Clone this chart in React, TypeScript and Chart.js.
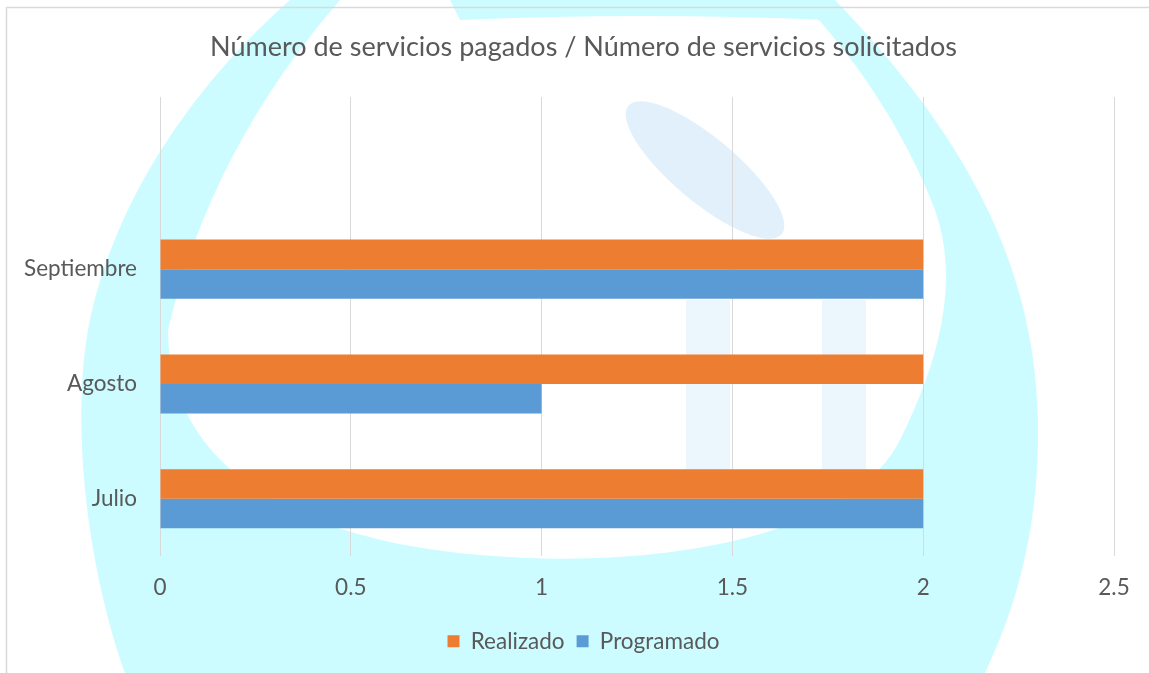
import React, { useEffect, useRef } from "react";
import { Chart, registerables } from "chart.js";

Chart.register(...registerables);

const titleText = "Número de servicios pagados / Número de servicios solicitados";
const categories = ["", "Septiembre", "Agosto", "Julio"];
const realizado: (number | null)[] = [null, 2, 2, 2];
const programado: (number | null)[] = [null, 2, 1, 2];
const seriesNames = ["Realizado", "Programado"];
const xMin = 0;
const xMax = 2.5;
const xStep = 0.5;

const FONT = "Lato, 'Open Sans', sans-serif";
const TEXT = "#595959";
const GRID = "#d9d9d9";
const CYAN = "#ccfcff";
const LIGHTBLUE = "rgba(200,228,248,0.55)";
const TICK_SIZE = 22.5;

const backgroundPlugin = {
  id: "bgWatermark",
  beforeDraw(chart: any) {
    const ctx = chart.ctx as CanvasRenderingContext2D;
    const w = chart.width;
    const h = chart.height;
    ctx.save();
    ctx.fillStyle = "#ffffff";
    ctx.fillRect(0, 0, w, h);

    // watermark (decorative)
    ctx.fillStyle = CYAN;
    ctx.beginPath();
    ctx.moveTo(290, 0);
    ctx.lineTo(340, 0);
    ctx.quadraticCurveTo(210, 150, 168, 330);
    ctx.bezierCurveTo(168, 470, 300, 540, 480, 555);
    ctx.bezierCurveTo(650, 570, 850, 540, 900, 440);
    ctx.bezierCurveTo(940, 360, 960, 280, 935, 210);
    ctx.bezierCurveTo(905, 130, 850, 50, 800, 0);
    ctx.lineTo(835, 0);
    ctx.bezierCurveTo(950, 120, 1035, 250, 1038, 420);
    ctx.bezierCurveTo(1040, 540, 1010, 620, 985, 673);
    ctx.lineTo(125, 673);
    ctx.bezierCurveTo(85, 560, 72, 420, 88, 330);
    ctx.bezierCurveTo(115, 190, 205, 75, 290, 0);
    ctx.closePath();
    ctx.fill();

    ctx.beginPath();
    ctx.moveTo(450, 0);
    ctx.lineTo(835, 0);
    ctx.lineTo(830, 20);
    ctx.quadraticCurveTo(640, 12, 460, 20);
    ctx.closePath();
    ctx.fill();

    ctx.fillStyle = LIGHTBLUE;
    ctx.beginPath();
    ctx.ellipse(705, 170, 100, 32, (40 * Math.PI) / 180, 0, Math.PI * 2);
    ctx.fill();
    ctx.fillStyle = "rgba(200,228,248,0.35)";
    ctx.fillRect(686, 300, 44, 170);
    ctx.fillRect(822, 300, 44, 170);

    // chart border
    ctx.strokeStyle = GRID;
    ctx.lineWidth = 1.5;
    ctx.strokeRect(6.5, 7.5, w + 20, h + 20);
    ctx.restore();
  },
};

export default function App() {
  const ref = useRef<HTMLCanvasElement | null>(null);

  useEffect(() => {
    if (!ref.current) return;
    const chart = new Chart(ref.current, {
      type: "bar",
      data: {
        labels: categories,
        datasets: [
          {
            label: seriesNames[0],
            data: realizado,
            backgroundColor: "#ED7D31",
            borderWidth: 0,
            categoryPercentage: 0.515,
            barPercentage: 1,
          },
          {
            label: seriesNames[1],
            data: programado,
            backgroundColor: "#5B9BD5",
            borderWidth: 0,
            categoryPercentage: 0.515,
            barPercentage: 1,
          },
        ],
      },
      options: {
        indexAxis: "y",
        responsive: false,
        animation: false,
        devicePixelRatio: 1,
        layout: { padding: { left: 20, right: 2, top: 0, bottom: 10.4 } },
        scales: {
          x: {
            type: "linear",
            min: xMin,
            max: xMax,
            ticks: {
              stepSize: xStep,
              color: TEXT,
              font: { family: FONT, size: TICK_SIZE },
              padding: 18.5,
              callback: (v: any) => String(Number(v)),
            },
            grid: { color: GRID, drawTicks: false, lineWidth: 1 },
            border: { display: false },
            afterFit: (scale: any) => {
              scale.height = 62;
            },
          },
          y: {
            type: "category",
            ticks: {
              color: TEXT,
              font: { family: FONT, size: TICK_SIZE },
              padding: 23,
            },
            grid: { display: false, drawTicks: false },
            border: { display: false },
            afterFit: (scale: any) => {
              scale.width = 140;
            },
          },
          yRight: {
            type: "category",
            position: "right",
            ticks: { display: false },
            grid: { display: false, drawTicks: false },
            border: { display: false },
            afterFit: (scale: any) => {
              scale.width = 33;
            },
          },
        },
        plugins: {
          title: {
            display: true,
            text: titleText,
            color: TEXT,
            font: { family: FONT, size: 27, weight: "normal" },
            padding: { top: 30.8, bottom: 33.8 },
          },
          legend: {
            display: true,
            position: "bottom",
            labels: {
              color: TEXT,
              font: { family: FONT, size: TICK_SIZE },
              boxWidth: 12,
              boxHeight: 12,
              padding: 12,
            },
          },
          tooltip: { enabled: false },
        },
      },
      plugins: [backgroundPlugin],
    });
    return () => chart.destroy();
  }, []);

  return (
    <div style={{ position: "absolute", left: 0, top: 0, width: 1149, height: 673 }}>
      <canvas ref={ref} width={1149} height={673} style={{ display: "block" }} />
    </div>
  );
}
